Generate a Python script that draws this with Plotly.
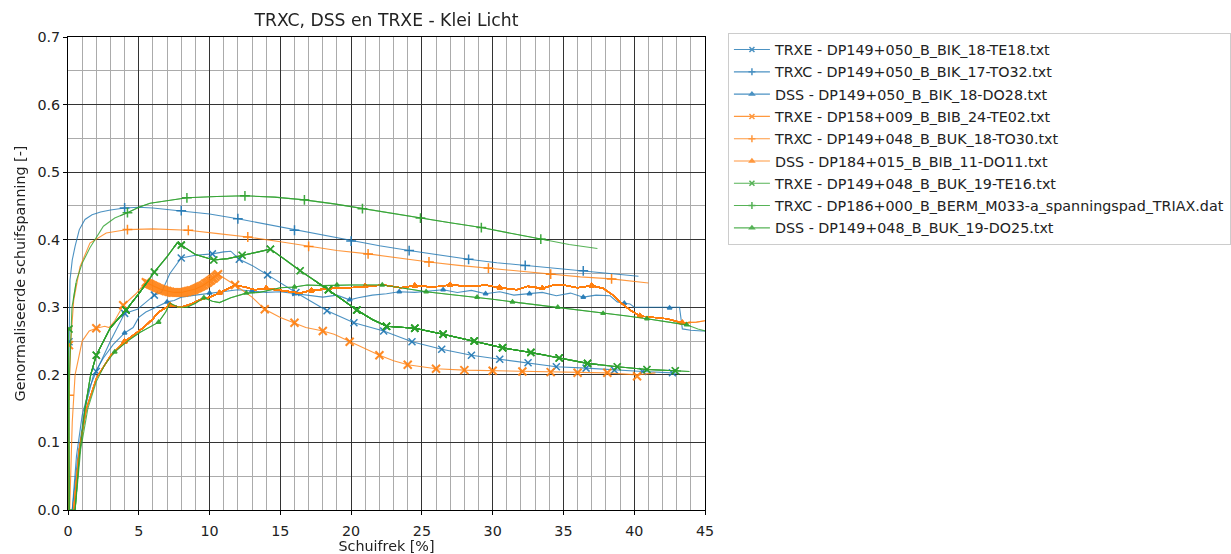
import plotly.graph_objects as go

# ---------------- data ----------------
NAMES = [
    "TRXE - DP149+050_B_BIK_18-TE18.txt",
    "TRXC - DP149+050_B_BIK_17-TO32.txt",
    "DSS - DP149+050_B_BIK_18-DO28.txt",
    "TRXE - DP158+009_B_BIB_24-TE02.txt",
    "TRXC - DP149+048_B_BUK_18-TO30.txt",
    "DSS - DP184+015_B_BIB_11-DO11.txt",
    "TRXE - DP149+048_B_BUK_19-TE16.txt",
    "TRXC - DP186+000_B_BERM_M033-a_spanningspad_TRIAX.dat",
    "DSS - DP149+048_B_BUK_19-DO25.txt",
]

# 1 blue TRXE
B_TRXE_X = [0.0, 0.1, 0.3, 0.6, 1.0, 1.5, 2.0, 3.0, 4.0, 4.9, 6.1, 6.6, 7.2, 8.0, 9.0, 10.2, 11.0, 11.5, 12.1,
            13.0, 14.1, 16.1, 18.3, 20.2, 22.3, 24.3, 26.4, 28.5, 30.5, 32.5, 34.5, 36.6, 38.6, 40.6, 42.7, 43.2]
B_TRXE_Y = [0.249, 0.0, 0.0, 0.08, 0.14, 0.18, 0.205, 0.25, 0.291, 0.297, 0.318, 0.322, 0.350, 0.373, 0.377, 0.379,
            0.382, 0.383, 0.371, 0.362, 0.348, 0.322, 0.295, 0.277, 0.265, 0.249, 0.238, 0.229, 0.223, 0.218, 0.212,
            0.210, 0.207, 0.205, 0.203, 0.202]
B_TRXE_MX = [0.07, 2.0, 4.0, 6.1, 8.0, 10.2, 12.1, 14.1, 16.1, 18.3, 20.2, 22.3, 24.3, 26.4, 28.5, 30.5, 32.5,
             34.5, 36.6, 38.6, 40.6, 42.7]
B_TRXE_MY = [0.249, 0.205, 0.291, 0.318, 0.373, 0.379, 0.371, 0.348, 0.322, 0.295, 0.277, 0.265, 0.249, 0.238,
             0.229, 0.223, 0.218, 0.212, 0.210, 0.207, 0.205, 0.203]

# 2 blue TRXC
B_TRXC_X = [0.0, 0.05, 0.14, 0.3, 0.5, 0.8, 1.2, 1.7, 2.3, 3.0, 4.0, 5.0, 6.0, 7.0, 8.0, 10.0, 12.0, 14.0, 16.0,
            18.0, 20.0, 22.0, 24.1, 26.0, 28.3, 30.3, 32.3, 34.3, 36.4, 38.3, 40.3]
B_TRXC_Y = [0.0, 0.2, 0.34, 0.37, 0.39, 0.415, 0.43, 0.437, 0.441, 0.444, 0.447, 0.448, 0.447, 0.445, 0.443, 0.438,
            0.431, 0.423, 0.414, 0.406, 0.398, 0.391, 0.384, 0.378, 0.371, 0.366, 0.362, 0.358, 0.354, 0.350, 0.346]
B_TRXC_MX = [4.0, 8.0, 12.0, 16.0, 20.0, 24.1, 28.3, 32.3, 36.4]
B_TRXC_MY = [0.447, 0.443, 0.431, 0.414, 0.398, 0.384, 0.371, 0.362, 0.354]

# 3 blue DSS
B_DSS_X = [0.3, 0.7, 1.2, 1.8, 2.5, 3.2, 4.0, 4.6, 5.0, 5.5, 6.0, 6.5, 7.0, 7.5, 8.0, 9.0, 10.0, 11.0, 12.0, 13.0,
           14.0, 15.0, 16.0, 17.0, 18.0, 19.0, 19.9, 20.5, 21.5, 22.5, 23.4, 24.5, 25.5, 26.5, 27.5, 28.5, 29.5,
           30.5, 31.5, 32.6, 33.5, 34.5, 35.5, 36.4, 37.3, 38.3, 38.8, 39.3, 39.7, 40.0, 40.5, 41.5, 42.5, 43.2,
           43.4, 44.0, 44.8, 45.0]
B_DSS_Y = [0.0, 0.08, 0.15, 0.2, 0.225, 0.245, 0.262, 0.27, 0.285, 0.293, 0.298, 0.303, 0.308, 0.31, 0.315, 0.318,
           0.321, 0.323, 0.326, 0.324, 0.322, 0.323, 0.320, 0.318, 0.315, 0.318, 0.311, 0.314, 0.318, 0.320, 0.323,
           0.322, 0.324, 0.326, 0.322, 0.325, 0.320, 0.323, 0.318, 0.320, 0.322, 0.317, 0.321, 0.315, 0.318, 0.317,
           0.308, 0.306, 0.305, 0.300, 0.300, 0.300, 0.299, 0.300, 0.268, 0.266, 0.265, 0.265]
B_DSS_MX = [4.0, 7.0, 10.0, 13.0, 16.0, 19.9, 23.4, 26.5, 29.5, 32.6, 36.4, 39.3, 42.5]
B_DSS_MY = [0.262, 0.308, 0.321, 0.324, 0.320, 0.311, 0.323, 0.326, 0.320, 0.320, 0.315, 0.306, 0.299]

# 4 orange TRXE (dense marker band between 5.5 and 10.6)
O_TRXE_X = [0.0, 0.05, 0.12, 0.3, 0.5, 1.0, 1.5, 2.0, 2.6, 2.9, 3.3, 3.9, 4.8, 5.5, 6.0, 6.5, 7.0, 7.5, 8.0, 8.5,
            9.0, 9.5, 10.0, 10.6, 11.8, 13.0, 13.9, 15.0, 16.0, 16.8, 17.5, 18.0, 18.8, 19.9, 21.0, 22.0, 23.0,
            24.0, 25.0, 26.0, 28.0, 30.0, 32.0, 34.0, 36.0, 38.0, 40.2, 41.5]
O_TRXE_Y = [0.244, 0.0, 0.0, 0.13, 0.2, 0.25, 0.265, 0.269, 0.272, 0.270, 0.28, 0.303, 0.32, 0.337, 0.332, 0.327,
            0.324, 0.322, 0.322, 0.324, 0.327, 0.332, 0.339, 0.349, 0.333, 0.315, 0.297, 0.285, 0.277, 0.270, 0.267,
            0.265, 0.260, 0.249, 0.239, 0.229, 0.221, 0.215, 0.212, 0.209, 0.207, 0.206, 0.205, 0.204, 0.203, 0.203,
            0.200, 0.203]
O_TRXE_MX = [0.07, 2.0, 3.9,
             5.5, 5.6, 5.7, 5.8, 5.9, 6.0, 6.1, 6.2, 6.3, 6.4, 6.5, 6.6, 6.7, 6.8, 6.9, 7.0, 7.1, 7.2, 7.3, 7.4,
             7.5, 7.6, 7.7, 7.8, 7.9, 8.0, 8.1, 8.2, 8.3, 8.4, 8.5, 8.6, 8.7, 8.8, 8.9, 9.0, 9.1, 9.2, 9.3, 9.4,
             9.5, 9.6, 9.7, 9.8, 9.9, 10.0, 10.1, 10.2, 10.3, 10.4, 10.5, 10.6,
             11.8, 13.9, 16.0, 18.0, 19.9, 22.0, 24.0, 26.0, 28.0, 30.0, 32.1, 34.1, 36.0, 38.1, 40.2]
O_TRXE_MY = [0.244, 0.269, 0.303,
             0.337, 0.336, 0.335, 0.334, 0.333, 0.332, 0.331, 0.330, 0.329, 0.328, 0.327, 0.326, 0.326, 0.325,
             0.324, 0.324, 0.323, 0.323, 0.322, 0.322, 0.322, 0.322, 0.322, 0.322, 0.322, 0.322, 0.322, 0.322,
             0.323, 0.323, 0.324, 0.324, 0.325, 0.325, 0.326, 0.327, 0.328, 0.329, 0.330, 0.331, 0.332, 0.333,
             0.335, 0.336, 0.337, 0.339, 0.340, 0.342, 0.343, 0.345, 0.347, 0.349,
             0.333, 0.297, 0.277, 0.265, 0.249, 0.229, 0.215, 0.209, 0.207, 0.206, 0.205, 0.204, 0.203, 0.203,
             0.198]

# 5 orange TRXC
O_TRXC_X = [0.05, 0.07, 0.2, 0.4, 0.85, 1.55, 2.7, 4.2, 6.0, 8.5, 10.6, 12.7, 15.0, 17.0, 19.0, 21.2, 23.3, 25.5,
            27.6, 29.7, 31.9, 34.1, 36.2, 38.4, 41.0]
O_TRXC_Y = [0.0, 0.17, 0.25, 0.31, 0.36, 0.395, 0.41, 0.415, 0.416, 0.414, 0.409, 0.404, 0.397, 0.390, 0.384,
            0.379, 0.373, 0.367, 0.362, 0.358, 0.354, 0.349, 0.345, 0.342, 0.336]
O_TRXC_MX = [0.07, 4.2, 8.5, 12.7, 17.0, 21.2, 25.5, 29.7, 34.1, 38.4]
O_TRXC_MY = [0.17, 0.415, 0.414, 0.404, 0.390, 0.379, 0.367, 0.358, 0.349, 0.342]

# 6 orange DSS
O_DSS_X = [0.4, 0.8, 1.3, 2.0, 3.0, 4.0, 5.4, 6.0, 6.4, 7.2, 8.0, 8.7, 9.3, 10.0, 10.7, 11.3, 11.8, 12.5, 13.2,
           14.0, 15.0, 15.8, 16.4, 17.2, 18.0, 18.7, 19.9, 21.0, 22.3, 23.5, 24.5, 25.8, 27.0, 28.6, 29.5, 30.5,
           31.7, 32.5, 33.5, 34.3, 35.0, 36.0, 37.0, 37.8, 38.5, 39.1, 39.7, 40.4, 41.3, 42.3, 43.4, 44.4, 45.0]
O_DSS_Y = [0.0, 0.09, 0.15, 0.195, 0.228, 0.249, 0.271, 0.283, 0.293, 0.303, 0.300, 0.305, 0.311, 0.315, 0.321,
           0.328, 0.333, 0.330, 0.326, 0.328, 0.325, 0.322, 0.321, 0.325, 0.327, 0.328, 0.329, 0.331, 0.333, 0.329,
           0.332, 0.330, 0.333, 0.331, 0.333, 0.329, 0.326, 0.331, 0.328, 0.333, 0.333, 0.329, 0.332, 0.328, 0.318,
           0.306, 0.296, 0.287, 0.285, 0.283, 0.277, 0.278, 0.280]
O_DSS_MX = [4.0, 7.2, 10.7, 14.0, 17.2, 21.0, 24.5, 27.0, 30.5, 33.5, 37.0, 40.4, 43.4]
O_DSS_MY = [0.249, 0.303, 0.321, 0.328, 0.325, 0.331, 0.332, 0.333, 0.329, 0.328, 0.332, 0.287, 0.277]

# 7 green TRXE
G_TRXE_X = [0.0, 0.1, 0.5, 0.8, 1.2, 1.6, 2.0, 3.0, 4.1, 5.0, 6.1, 7.0, 7.7, 8.0, 9.0, 10.3, 11.3, 12.3, 13.3,
            14.3, 15.3, 16.4, 17.4, 18.4, 19.4, 20.4, 21.5, 22.5, 23.5, 24.5, 26.5, 28.7, 30.7, 32.7, 34.7, 36.7,
            38.8, 40.9, 42.9, 43.9]
G_TRXE_Y = [0.268, 0.0, 0.0, 0.08, 0.15, 0.2, 0.229, 0.27, 0.296, 0.32, 0.352, 0.375, 0.395, 0.392, 0.378, 0.370,
            0.372, 0.377, 0.381, 0.386, 0.371, 0.354, 0.340, 0.326, 0.311, 0.296, 0.282, 0.272, 0.271, 0.269, 0.260,
            0.250, 0.240, 0.233, 0.225, 0.217, 0.212, 0.208, 0.206, 0.205]
G_TRXE_MX = [0.07, 2.0, 4.1, 6.1, 8.0, 10.3, 12.3, 14.3, 16.4, 18.4, 20.4, 22.5, 24.5, 26.5, 28.7, 30.7, 32.7,
             34.7, 36.7, 38.8, 40.9, 42.9]
G_TRXE_MY = [0.268, 0.229, 0.296, 0.352, 0.392, 0.370, 0.377, 0.386, 0.354, 0.326, 0.296, 0.272, 0.269, 0.260,
             0.250, 0.240, 0.233, 0.225, 0.217, 0.212, 0.208, 0.206]

# 8 green TRXC
G_TRXC_X = [0.05, 0.1, 0.28, 0.6, 1.0, 1.55, 2.5, 3.3, 4.2, 5.0, 5.8, 7.0, 8.4, 10.5, 12.5, 14.6, 16.7, 18.8,
            20.8, 22.8, 24.9, 27.0, 29.2, 31.3, 33.4, 35.4, 37.4]
G_TRXC_Y = [0.0, 0.2, 0.3, 0.34, 0.365, 0.388, 0.42, 0.432, 0.44, 0.448, 0.454, 0.458, 0.462, 0.464, 0.465,
            0.463, 0.459, 0.453, 0.446, 0.439, 0.432, 0.425, 0.418, 0.410, 0.401, 0.393, 0.387]
G_TRXC_MX = [4.2, 8.4, 12.5, 16.7, 20.8, 24.9, 29.2, 33.4]
G_TRXC_MY = [0.44, 0.462, 0.465, 0.459, 0.446, 0.432, 0.418, 0.401]

# 9 green DSS
G_DSS_X = [0.5, 0.9, 1.4, 2.0, 2.6, 3.3, 4.2, 5.1, 5.8, 6.4, 6.9, 7.2, 7.8, 8.4, 9.0, 9.6, 10.2, 10.7, 11.5,
           12.6, 13.5, 14.2, 15.0, 16.0, 16.9, 18.0, 19.0, 19.9, 21.0, 22.2, 23.5, 25.3, 27.0, 28.9, 30.0, 31.4,
           33.0, 34.6, 36.0, 37.8, 39.5, 40.9, 42.3, 43.7, 44.5, 45.0]
G_DSS_Y = [0.0, 0.09, 0.15, 0.19, 0.215, 0.234, 0.25, 0.263, 0.271, 0.278, 0.293, 0.306, 0.300, 0.300, 0.306,
           0.314, 0.309, 0.307, 0.314, 0.321, 0.322, 0.325, 0.329, 0.330, 0.333, 0.332, 0.333, 0.333, 0.333, 0.333,
           0.329, 0.323, 0.319, 0.315, 0.312, 0.308, 0.304, 0.300, 0.296, 0.291, 0.287, 0.283, 0.279, 0.274,
           0.268, 0.265]
G_DSS_MX = [3.3, 6.4, 9.6, 12.6, 16.0, 19.0, 22.2, 25.3, 28.9, 31.4, 34.6, 37.8, 40.9, 43.7]
G_DSS_MY = [0.234, 0.278, 0.314, 0.321, 0.330, 0.333, 0.333, 0.323, 0.315, 0.308, 0.300, 0.291, 0.283, 0.274]

X_TICKS = [0, 5, 10, 15, 20, 25, 30, 35, 40, 45]
Y_TICKS = [0.0, 0.1, 0.2, 0.3, 0.4, 0.5, 0.6, 0.7]

# ---------------- styling ----------------
BLUE, ORANGE, GREEN = "#1f77b4", "#ff7f0e", "#2ca02c"
SYM = {"TRXE": ("x-thin", 7), "TRXC": ("cross-thin", 7), "DSS": ("triangle-up", 4)}
FONT = "DejaVu Sans"
TXT = "#222222"
FS = 14.3

series = [
    (NAMES[0], BLUE, "TRXE", B_TRXE_X, B_TRXE_Y, B_TRXE_MX, B_TRXE_MY),
    (NAMES[1], BLUE, "TRXC", B_TRXC_X, B_TRXC_Y, B_TRXC_MX, B_TRXC_MY),
    (NAMES[2], BLUE, "DSS", B_DSS_X, B_DSS_Y, B_DSS_MX, B_DSS_MY),
    (NAMES[3], ORANGE, "TRXE", O_TRXE_X, O_TRXE_Y, O_TRXE_MX, O_TRXE_MY),
    (NAMES[4], ORANGE, "TRXC", O_TRXC_X, O_TRXC_Y, O_TRXC_MX, O_TRXC_MY),
    (NAMES[5], ORANGE, "DSS", O_DSS_X, O_DSS_Y, O_DSS_MX, O_DSS_MY),
    (NAMES[6], GREEN, "TRXE", G_TRXE_X, G_TRXE_Y, G_TRXE_MX, G_TRXE_MY),
    (NAMES[7], GREEN, "TRXC", G_TRXC_X, G_TRXC_Y, G_TRXC_MX, G_TRXC_MY),
    (NAMES[8], GREEN, "DSS", G_DSS_X, G_DSS_Y, G_DSS_MX, G_DSS_MY),
]

fig = go.Figure()
for i, (name, col, kind, xs, ys, mx, my) in enumerate(series):
    sym, size = SYM[kind]
    mk = dict(symbol=sym, size=size, color=col, line=dict(color=col, width=1.5))
    fig.add_trace(go.Scatter(x=xs, y=ys, mode="lines", line=dict(color=col, width=1.1),
                             opacity=0.8, showlegend=False, legendgroup=f"g{i}", hoverinfo="skip"))
    mk_plot = dict(mk)
    if kind == "TRXE" and col == ORANGE:
        mk_plot = dict(symbol=sym, size=8, color=col, line=dict(color=col, width=2))
    fig.add_trace(go.Scatter(x=mx, y=my, mode="markers", marker=mk_plot, opacity=0.9,
                             showlegend=False, legendgroup=f"g{i}", hoverinfo="skip"))
    leg_mk = dict(symbol=sym, size=max(size - 2, 4), color=col, line=dict(color=col, width=1.5))
    fig.add_trace(go.Scatter(x=[None], y=[None], mode="lines+markers", name=name,
                             line=dict(color=col, width=1.1), marker=leg_mk, opacity=0.8,
                             legendgroup=f"g{i}", showlegend=True))

axis_common = dict(
    showline=True, linecolor="black", linewidth=1, mirror=True,
    ticks="outside", ticklen=4, tickcolor="black", tickwidth=1,
    showgrid=True, gridcolor="#333333", gridwidth=1.2, zeroline=False,
    tickfont=dict(family=FONT, size=FS, color=TXT), automargin=False,
)
fig.update_xaxes(range=[0, 45], tickvals=X_TICKS, ticktext=[str(v) for v in X_TICKS],
                 ticklabelstandoff=4,
                 minor=dict(dtick=1, showgrid=True, gridcolor="#ababab", gridwidth=1),
                 title=dict(text="Schuifrek [%]", font=dict(family=FONT, size=FS, color=TXT), standoff=3),
                 **axis_common)
fig.update_yaxes(range=[0, 0.7], tickvals=Y_TICKS, ticktext=[f"{v:.1f}" for v in Y_TICKS],
                 minor=dict(dtick=0.05, showgrid=True, gridcolor="#ababab", gridwidth=1),
                 title=dict(text="Genormaliseerde schuifspanning [-]",
                            font=dict(family=FONT, size=FS, color=TXT), standoff=8),
                 **axis_common)

fig.update_layout(
    width=1231, height=554,
    margin=dict(l=68, r=526, t=37, b=44, autoexpand=False),
    paper_bgcolor="white", plot_bgcolor="white",
    title=dict(text="TRXC, DSS en TRXE - Klei Licht", x=0.5, xref="paper", xanchor="center",
               y=1 - 20 / 554, yref="container", yanchor="middle",
               font=dict(family=FONT, size=17.2, color=TXT)),
    legend=dict(x=1.036, xanchor="left", y=1.009, yanchor="top", bordercolor="#cccccc", borderwidth=1,
                bgcolor="white", font=dict(family=FONT, size=FS, color=TXT), tracegroupgap=0.7,
                itemwidth=36, traceorder="grouped"),
    showlegend=True,
)

fig.write_html("out.html")
